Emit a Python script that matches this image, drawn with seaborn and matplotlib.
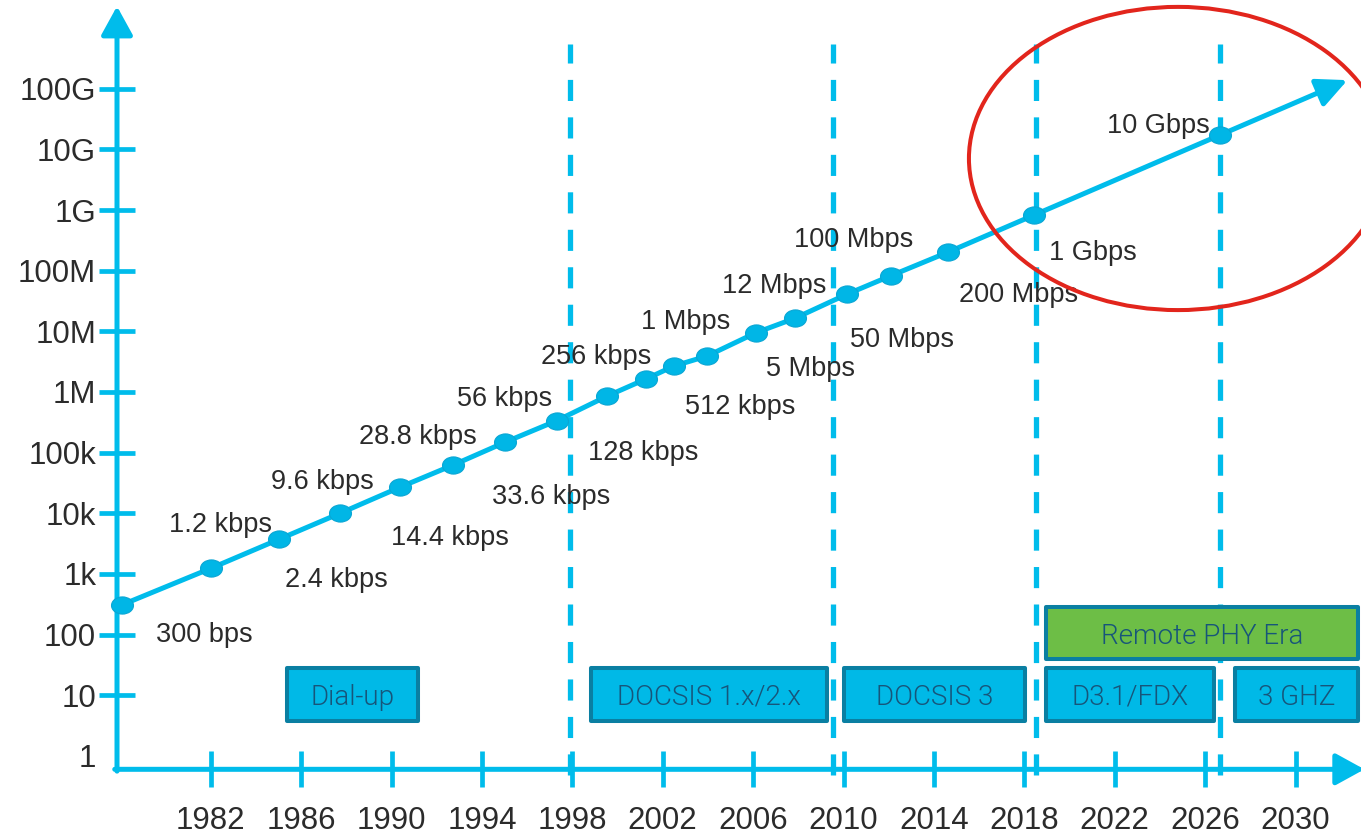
import numpy as np
import pandas as pd
import matplotlib
matplotlib.use("Agg")
import matplotlib.pyplot as plt
import seaborn as sns
from matplotlib.patches import Ellipse, Rectangle
from matplotlib.path import Path
from matplotlib.transforms import Affine2D

# ---------------- data ----------------
speed_labels = ["300 bps", "1.2 kbps", "2.4 kbps", "9.6 kbps", "14.4 kbps", "28.8 kbps",
                "33.6 kbps", "56 kbps", "128 kbps", "256 kbps", "512 kbps", "1 Mbps",
                "5 Mbps", "12 Mbps", "50 Mbps", "100 Mbps", "200 Mbps", "1 Gbps", "10 Gbps"]
years = [1978.06, 1982.01, 1985.02, 1987.72, 1990.37, 1992.73, 1995.02, 1997.31,
         1999.55, 2001.26, 2002.50, 2003.97, 2006.13, 2007.85, 2010.14, 2012.10,
         2014.61, 2018.44, 2026.66]
# plotted level on the chart (log10 of bps, as drawn)
plot_level_log10 = [2.487, 3.092, 3.570, 3.999, 4.428, 4.795, 5.170, 5.526, 5.933,
                    6.214, 6.428, 6.593, 6.977, 7.215, 7.610, 7.917, 8.303, 8.918, 10.237]
trend_end_year = 2032.3

era_boundaries = [1997.92, 2009.55, 2018.52, 2026.66]
eras = ["Dial-up", "DOCSIS 1.x/2.x", "DOCSIS 3", "D3.1/FDX", "3 GHZ"]
era_start = [1985.36, 1998.83, 2010.02, 2018.96, 2027.32]
era_end = [1991.19, 2009.27, 2018.03, 2026.39, 2032.78]
rphy_label = "Remote PHY Era"
rphy_start, rphy_end = 2018.96, 2032.78

ytick_labels = ["1", "10", "100", "1k", "10k", "100k", "1M", "10M", "100M", "1G", "10G", "100G"]
xtick_years = list(range(1982, 2031, 4))

# ---------------- layout / style ----------------
CYAN = "#00BCEB"
TEXT = "#2B2B2B"
BOX_FILL = "#00B9E7"
BOX_EDGE = "#0A7FA2"
GREEN = "#6DBE46"
BOX_TEXT = "#17557A"
RED = "#E2251C"
BOX_FONT = ["Roboto", "Open Sans", "DejaVu Sans"]

label_offsets = [(83, -30), (10, 43), (57, -41), (-18, 31), (50, -51), (-35, 28),
                 (46, -55), (-52, 22), (36, -57), (-50, 22), (66, -41), (-22, 34),
                 (54, -36), (-21, 32), (55, -46), (-37, 36), (71, -43), (59, -38), (-62, 9)]

sns.set_theme(style="white")
plt.rcParams["font.family"] = ["Liberation Sans", "DejaVu Sans"]

fig = plt.figure(figsize=(13.61, 8.38), dpi=100)
ax = fig.add_axes([0, 0, 1, 1])
ax.set_xlim(1972.677, 2032.898)
ax.set_ylim(-1.3557, 12.4636)
for s in ax.spines.values():
    s.set_visible(False)

x_axis_pos = 1977.854
y_axis_pos = -0.223

# axes with arrows
arrow_kw = dict(arrowstyle="-|>,head_length=0.4,head_width=0.22", mutation_scale=44,
                lw=3.6, color=CYAN, shrinkA=0, shrinkB=0)
ax.annotate("", xy=(x_axis_pos, 12.36), xytext=(x_axis_pos, y_axis_pos - 0.03),
            arrowprops=arrow_kw, annotation_clip=False)
ax.annotate("", xy=(2033.05, y_axis_pos), xytext=(x_axis_pos - 0.1, y_axis_pos),
            arrowprops=arrow_kw, annotation_clip=False)

# ticks
ax.spines["left"].set_position(("data", x_axis_pos))
ax.spines["bottom"].set_position(("data", y_axis_pos))
ax.set_yticks(range(len(ytick_labels)))
ax.set_yticklabels(ytick_labels)
ax.set_xticks(xtick_years)
ax.set_xticklabels([str(y) for y in xtick_years])
ax.tick_params(axis="y", direction="inout", length=26, width=3.4, color=CYAN,
               labelsize=22.5, labelcolor=TEXT, pad=2, left=True)
ax.tick_params(axis="x", direction="inout", length=26.6, width=3.4, color=CYAN,
               labelsize=22.5, labelcolor=TEXT, pad=13, bottom=True)
ax.yaxis.get_major_ticks()[0].tick1line.set_visible(False)
ax.grid(False)

# era dashed lines
ax.vlines(era_boundaries, -0.32, 11.74, colors=CYAN, lw=3.8,
          linestyles=(0, (4.0, 3.1)), zorder=2)

# boxes
for name, x0, x1 in zip(eras, era_start, era_end):
    ax.add_patch(Rectangle((x0, 0.58), x1 - x0, 0.87, facecolor=BOX_FILL,
                           edgecolor=BOX_EDGE, lw=2.9, joinstyle="round", zorder=3,
                           clip_on=False))
    ax.text((x0 + x1) / 2, 0.965, name, ha="center", va="center", fontsize=20,
            color=BOX_TEXT, family=BOX_FONT, fontweight=300, zorder=4)
ax.add_patch(Rectangle((rphy_start, 1.60), rphy_end - rphy_start, 0.855, facecolor=GREEN,
                       edgecolor=BOX_EDGE, lw=2.9, joinstyle="round", zorder=3, clip_on=False))
ax.text((rphy_start + rphy_end) / 2, 1.965, rphy_label, ha="center", va="center",
        fontsize=20, color=BOX_TEXT, family=BOX_FONT, fontweight=300, zorder=4)

# trend line
df = pd.DataFrame({"year": years, "level": plot_level_log10, "label": speed_labels})
sns.lineplot(data=df, x="year", y="level", color=CYAN, lw=3.6, sort=False, ax=ax, zorder=5)
slope = (plot_level_log10[-1] - plot_level_log10[-2]) / (years[-1] - years[-2])
end_level = plot_level_log10[-1] + slope * (trend_end_year - years[-1])
ax.annotate("", xy=(trend_end_year, end_level), xytext=(years[-1], plot_level_log10[-1]),
            arrowprops=dict(arrowstyle="-|>,head_length=0.42,head_width=0.2",
                            mutation_scale=44, lw=3.6, color=CYAN, shrinkA=0, shrinkB=0),
            zorder=5, annotation_clip=False)

ell = Affine2D().scale(1.28, 1.0).transform_path(Path.unit_circle())
sns.scatterplot(data=df, x="year", y="level", marker=ell, s=250, color="#00B6E6",
                edgecolor="#0AA6D4", linewidth=0.8, ax=ax, zorder=6)

for (lab, x, y), (dx, dy) in zip(zip(speed_labels, years, plot_level_log10), label_offsets):
    ax.annotate(lab, xy=(x, y), xytext=(dx, dy), textcoords="offset pixels",
                ha="center", va="center", fontsize=19.5, color=TEXT, zorder=8)

# highlight ellipse
ax.add_patch(Ellipse((2024.80, 9.850), 18.5, 5.0, fill=False, edgecolor=RED, lw=2.9,
                     zorder=9, clip_on=False))

ax.set_xlabel("")
ax.set_ylabel("")
fig.savefig("out.png", dpi=100)
